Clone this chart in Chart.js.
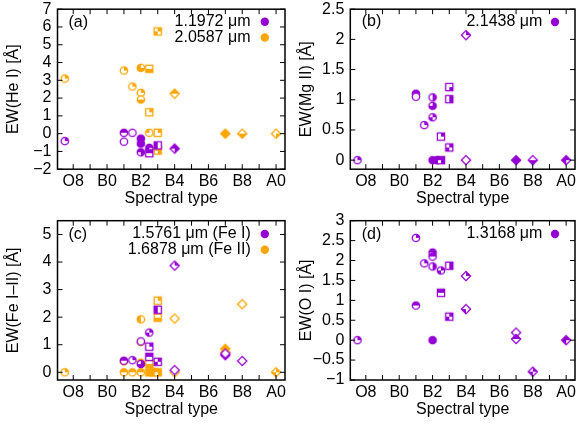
<!DOCTYPE html>
<html><head><meta charset="utf-8">
<script src="https://cdn.jsdelivr.net/npm/chart.js@4"></script>
<style>
html,body{margin:0;padding:0;background:#fff;width:580px;height:425px;overflow:hidden}
canvas{position:absolute}
</style></head><body>
<canvas id="ca" width="290" height="212" style="left:0;top:0"></canvas>
<canvas id="cb" width="290" height="212" style="left:290px;top:0"></canvas>
<canvas id="cc" width="290" height="213" style="left:0;top:212px"></canvas>
<canvas id="cd" width="290" height="213" style="left:290px;top:212px"></canvas>
<script>
// ---- axis ticks ----
const xTickValues = [-2,-1,0,1,2,3,4,5,6,7,8,9,10];
const xTickLabels = ['O8','','B0','','B2','','B4','','B6','','B8','','A0'];
const yTicksA = [-2,-1,0,1,2,3,4,5,6,7];
const yTicksB = [0,0.5,1,1.5,2,2.5];
const yTicksC = [0,1,2,3,4,5];
const yTicksD = [-1,-0.5,0,0.5,1,1.5,2,2.5,3];

// ---- (a) He I ----
const heI1197Sp = [-2.5, 1, 1.5, 1, 2, 2, 2, 2.5, 2.5, 3, 4];
const heI1197Ew = [-0.42, 0.05, 0.05, -0.45, -0.28, -0.56, -1.05, -0.8, -1.1, -0.66, -0.84];
const heI1197Mk = ['c0100','c1100','c0000','c0000','c1111','c1111','c1101','c1110','s1100','s1010','d1101'];
const heI2059Sp = [-2.5, 1, 2, 2.5, 1.5, 2, 2, 2.5, 3, 4, 2.5, 3, 3, 7, 8, 10];
const heI2059Ew = [3.1, 3.55, 3.7, 3.65, 2.65, 2.3, 1.92, 1.2, 5.75, 2.25, 0.05, 0.05, -0.95, 0, 0, 0];
const heI2059Mk = ['c0100','c0100','c1011','s0011','c0100','c0100','c0011','s0100','s0110','d1100','c1000','s0100','s1101','d1111','d0011','d0001'];

// ---- (b) Mg II ----
const mgII2144Sp = [-2.5, 1, 1, 2, 2, 2, 1.5, 2.5, 3, 3, 3, 4, 4, 2, 2.25, 2.5, 7, 8, 10];
const mgII2144Ew = [0, 1.1, 1.05, 1.04, 0.9, 0.71, 0.58, 0.39, 1.21, 1.01, 0.21, 2.07, 0, 0, 0, 0, 0, 0, 0];
const mgII2144Mk = ['c0100','c1100','c0000','c0101','c0111','c0110','c0100','s0100','s0001','s0101','s0110','d0100','d0000','c1111','c1111','s1101','d1111','d0011','d1110'];

// ---- (c) Fe I / Fe II ----
const feI1576Sp = [1, 1.5, 2, 2, 2.5, 2.5, 2.5, 3, 3, 4, 4, 7, 7, 8];
const feI1576Ew = [0.42, 0.44, 0.3, 1.12, 1.44, 0.93, 0.56, 0.38, 2.27, 3.87, 0.08, 0.62, 0.68, 0.41];
const feI1576Mk = ['c1100','c0100','c0111','c0000','c0110','s0100','s1100','s0110','s1010','d0100','d0000','d1111','d0000','d0000'];
const feII1688Sp = [-2.5, 1, 1.5, 2, 1, 2, 2, 2, 2.5, 2.75, 3, 2.5, 3, 3, 4, 4, 7, 7, 8, 10];
const feII1688Ew = [0, 0, 0, 0, 0.4, 0.35, 1.1, 1.92, 0, 0, 0, 0.3, 2.6, 1.98, 1.95, 0, 0.85, 0.72, 2.47, 0];
const feII1688Mk = ['c0100','c1100','c1100','c1100','c0011','c1111','c1010','c1010','s1111','s1111','s1101','s0011','s0100','s0011','d0000','d0000','d1111','d1111','d0000','d0110'];

// ---- (d) O I ----
const oI1317Sp = [-2.5, 1, 1, 2, 2, 1.5, 2, 2.5, 3, 2.5, 3, 4, 4, 2, 7, 7, 8, 10];
const oI1317Ew = [0, 2.57, 0.87, 2.2, 2.1, 1.93, 1.85, 1.75, 1.87, 1.19, 0.59, 1.61, 0.78, 0, 0.19, 0.03, -0.79, 0];
const oI1317Mk = ['c0100','c0100','c1100','c1101','c1100','c0100','c0101','c0110','s0101','s1100','s0110','d0100','d0010','c1111','d0000','d1100','d0110','d1110'];

const PURPLE = '#9400d3', ORANGE = '#ffa500';
const FONT = '"Liberation Sans", Arial, sans-serif';

const markerCache = {};
function markerFor(code, color) {
  const key = code + color;
  if (markerCache[key]) return markerCache[key];
  const shape = code[0], mask = code.slice(1);
  const R = shape === 'c' ? 3.7 : shape === 's' ? 3.6 : 4.6;
  const S = 14, c = S / 2;
  const cv = document.createElement('canvas'); cv.width = S; cv.height = S;
  const g = cv.getContext('2d');
  const path = () => {
    g.beginPath();
    if (shape === 'c') g.arc(c, c, R, 0, Math.PI * 2);
    else if (shape === 's') g.rect(c - R, c - R, 2 * R, 2 * R);
    else { g.moveTo(c, c - R); g.lineTo(c + R, c); g.lineTo(c, c + R); g.lineTo(c - R, c); g.closePath(); }
  };
  path(); g.fillStyle = '#fff'; g.fill();
  const q = [[0,0],[c,0],[0,c],[c,c]];
  for (let i = 0; i < 4; i++) if (mask[i] === '1') {
    g.save(); g.beginPath(); g.rect(q[i][0], q[i][1], c, c); g.clip();
    path(); g.fillStyle = color; g.fill(); g.restore();
  }
  path(); g.strokeStyle = color; g.lineWidth = 1.3; g.stroke();
  markerCache[key] = cv; return cv;
}

const fmt = v => (v < 0 ? '\u2212' + Math.abs(v) : String(v));

const deco = {
  id: 'deco',
  afterDraw(chart, args, o) {
    const g = chart.ctx, a = chart.chartArea;
    const xs = chart.scales.x, ys = chart.scales.y;
    g.save();
    g.strokeStyle = '#000'; g.lineWidth = 1;
    g.beginPath();
    xTickValues.forEach(v => {
      const p = xs.getPixelForValue(v);
      g.moveTo(p, a.bottom); g.lineTo(p, a.bottom - 5);
      g.moveTo(p, a.top); g.lineTo(p, a.top + 5);
    });
    o.yTicks.forEach(v => {
      const p = ys.getPixelForValue(v);
      g.moveTo(a.left, p); g.lineTo(a.left + 5, p);
      g.moveTo(a.right, p); g.lineTo(a.right - 5, p);
    });
    g.stroke();
    g.lineWidth = 1.5;
    g.strokeRect(a.left, a.top, a.right - a.left, a.bottom - a.top);
    g.fillStyle = '#000'; g.font = '16px ' + FONT; g.textBaseline = 'middle';
    g.textAlign = 'left';
    g.fillText(o.label, a.left + o.labelDx, a.top + o.labelDy);
    g.textAlign = 'right';
    o.legend.forEach((e, i) => {
      const y = a.top + o.legDy + i * 15.8;
      g.fillStyle = '#000';
      g.fillText(e.text, a.right - o.legTextDx, y);
      g.beginPath(); g.arc(a.right - o.legMarkDx, y, 4.2, 0, Math.PI * 2);
      g.fillStyle = e.color; g.fill();
    });
    g.restore();
  }
};

function makePanel(id, p) {
  const datasets = p.series.map(s => ({
    data: s.sp.map((x, i) => ({ x, y: s.ew[i] })),
    pointStyle: s.mk.map(m => markerFor(m, s.color)),
    pointRadius: 4, pointHoverRadius: 4,
    borderColor: s.color, backgroundColor: s.color
  }));
  new Chart(document.getElementById(id), {
    type: 'scatter',
    data: { datasets },
    plugins: [deco],
    options: {
      responsive: false, animation: false, events: [],
      layout: { padding: { left: 0, top: p.padTop, right: p.padRight, bottom: p.padBottom } },
      plugins: {
        legend: { display: false }, tooltip: { enabled: false },
        deco: { yTicks: p.yTicks, label: p.label, labelDx: p.labelDx, labelDy: p.labelDy,
                legend: p.legend, legDy: p.legDy, legTextDx: p.legTextDx, legMarkDx: p.legMarkDx }
      },
      scales: {
        x: {
          type: 'linear', min: -2.93, max: 10.53,
          grid: { display: false, drawTicks: false }, border: { display: false },
          afterBuildTicks: s => { s.ticks = xTickValues.map(v => ({ value: v })); },
          afterFit: s => { s.height = p.xHeight; s.paddingLeft = 0; s.paddingRight = 0; },
          ticks: { autoSkip: false, maxRotation: 0, padding: 3, color: '#000',
                   font: { size: 16, family: FONT },
                   callback: v => xTickLabels[xTickValues.indexOf(v)] ?? '' },
          title: { display: true, text: 'Spectral type', color: '#000',
                   font: { size: 16, family: FONT }, padding: { top: 0, bottom: 4 } }
        },
        y: {
          type: 'linear', min: p.yMin, max: p.yMax,
          grid: { display: false, drawTicks: false }, border: { display: false },
          afterBuildTicks: s => { s.ticks = p.yTicks.map(v => ({ value: v })); },
          afterFit: s => { s.width = p.yWidth; s.paddingTop = 0; s.paddingBottom = 0; },
          ticks: { autoSkip: false, padding: 6, color: '#000',
                   font: { size: 16, family: FONT }, callback: v => fmt(v) },
          title: { display: true, text: p.yTitle, color: '#000',
                   font: { size: 16, family: FONT }, padding: { top: p.yTitlePad, bottom: 0 } }
        }
      }
    }
  });
}

makePanel('ca', {
  series: [
    { sp: heI1197Sp, ew: heI1197Ew, mk: heI1197Mk, color: PURPLE },
    { sp: heI2059Sp, ew: heI2059Ew, mk: heI2059Mk, color: ORANGE }
  ],
  yMin: -2, yMax: 7, yTicks: yTicksA, yTitle: 'EW(He I) [Å]',
  padTop: 9.2, padRight: 2.5, padBottom: 0, xHeight: 42.8, yWidth: 57.5, yTitlePad: 4.4,
  label: '(a)', labelDx: 11, labelDy: 13.3,
  legend: [{ text: '1.1972 μm', color: PURPLE }, { text: '2.0587 μm', color: ORANGE }],
  legDy: 12.5, legTextDx: 34.5, legMarkDx: 20.2
});
makePanel('cb', {
  series: [{ sp: mgII2144Sp, ew: mgII2144Ew, mk: mgII2144Mk, color: PURPLE }],
  yMin: -0.15, yMax: 2.5, yTicks: yTicksB, yTitle: 'EW(Mg II) [Å]',
  padTop: 9.2, padRight: 0.7, padBottom: 0, xHeight: 42.8, yWidth: 60.3, yTitlePad: 7.1,
  label: '(b)', labelDx: 11.4, labelDy: 12.8,
  legend: [{ text: '2.1438 μm', color: PURPLE }],
  legDy: 12.8, legTextDx: 32.6, legMarkDx: 20
});
makePanel('cc', {
  series: [
    { sp: feI1576Sp, ew: feI1576Ew, mk: feI1576Mk, color: PURPLE },
    { sp: feII1688Sp, ew: feII1688Ew, mk: feII1688Mk, color: ORANGE }
  ],
  yMin: -0.28, yMax: 5.5, yTicks: yTicksC, yTitle: 'EW(Fe I–II) [Å]',
  padTop: 8.7, padRight: 2.5, padBottom: 2, xHeight: 43, yWidth: 57.5, yTitlePad: 4.4,
  label: '(c)', labelDx: 11, labelDy: 14,
  legend: [{ text: '1.5761 μm (Fe I)', color: PURPLE }, { text: '1.6878 μm (Fe II)', color: ORANGE }],
  legDy: 13.3, legTextDx: 34.2, legMarkDx: 20.2
});
makePanel('cd', {
  series: [{ sp: oI1317Sp, ew: oI1317Ew, mk: oI1317Mk, color: PURPLE }],
  yMin: -1, yMax: 3, yTicks: yTicksD, yTitle: 'EW(O I) [Å]',
  padTop: 8.7, padRight: 0.7, padBottom: 2, xHeight: 43, yWidth: 60.3, yTitlePad: 7.1,
  label: '(d)', labelDx: 11.4, labelDy: 14,
  legend: [{ text: '1.3168 μm', color: PURPLE }],
  legDy: 13.3, legTextDx: 32.6, legMarkDx: 20
});
</script>
</body></html>
